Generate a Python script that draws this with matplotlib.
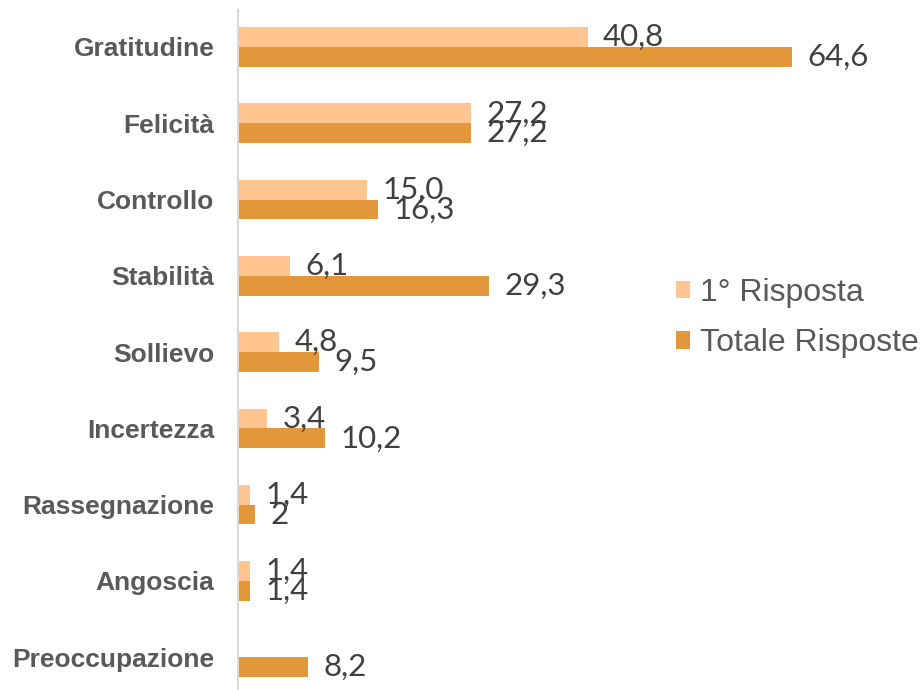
import matplotlib.pyplot as plt
import numpy as np

categorie = ['Gratitudine', 'Felicità', 'Controllo', 'Stabilità', 'Sollievo',
             'Incertezza', 'Rassegnazione', 'Angoscia', 'Preoccupazione']
prima = [40.8, 27.2, 15.0, 6.1, 4.8, 3.4, 1.4, 1.4, None]
totale = [64.6, 27.2, 16.3, 29.3, 9.5, 10.2, 2, 1.4, 8.2]
prima_lbl = ['40,8', '27,2', '15,0', '6,1', '4,8', '3,4', '1,4', '1,4', '']
totale_lbl = ['64,6', '27,2', '16,3', '29,3', '9,5', '10,2', '2', '1,4', '8,2']

c_light = '#FFC48F'
c_dark = '#E2973A'

fig = plt.figure(figsize=(9.24, 6.9), dpi=100)
ax = fig.add_axes([238 / 924, 0, 600 / 924, 1 - 10 / 690])

y = np.arange(len(categorie))
h = 0.26
p_vals = [v if v is not None else 0 for v in prima]
b1 = ax.barh(y - h / 2, p_vals, height=h, color=c_light, label='1° Risposta')
b2 = ax.barh(y + h / 2, totale, height=h, color=c_dark, label='Totale Risposte')

for i in range(len(categorie)):
    if prima[i] is not None:
        ax.text(prima[i] + 1.8, y[i] - h / 2, prima_lbl[i], va='center', ha='left',
                fontsize=22.5, color='#404040', family=['Lato', 'DejaVu Sans'])
    ax.text(totale[i] + 1.8, y[i] + h / 2, totale_lbl[i], va='center', ha='left',
            fontsize=22.5, color='#404040', family=['Lato', 'DejaVu Sans'])

ax.set_xlim(0, 70)
ax.set_ylim(8.43, -0.485)
ax.set_yticks(y)
ax.set_yticklabels(categorie, fontsize=19, fontweight='bold', color='#595959',
                   family='Liberation Sans')
ax.tick_params(axis='y', length=0, pad=17)
ax.set_xticks([])
for s in ['top', 'right', 'bottom']:
    ax.spines[s].set_visible(False)
ax.spines['left'].set_color('#D9D9D9')
ax.spines['left'].set_linewidth(1.5)

leg = fig.legend(handles=[b1, b2], loc='center left', bbox_to_anchor=(676 / 924, 1 - 318 / 690),
                 frameon=False, prop={'family': 'Liberation Sans', 'size': 23},
                 labelcolor='#595959', handlelength=0.45, handleheight=0.45,
                 handletextpad=0.3, labelspacing=0.65, borderpad=0, borderaxespad=0)

fig.savefig('out.png', dpi=100)
